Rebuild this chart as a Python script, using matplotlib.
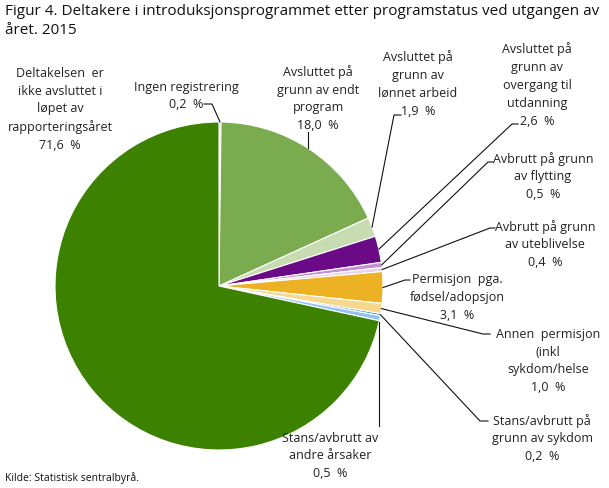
import numpy as np
import matplotlib
matplotlib.use("Agg")
import matplotlib.pyplot as plt

plt.rcParams['font.family'] = ['Open Sans', 'DejaVu Sans']

# data, clockwise from 12 o'clock
labels = ["Ingen registrering",
          "Avsluttet på\ngrunn av endt\nprogram",
          "Avsluttet på\ngrunn av\nlønnet arbeid",
          "Avsluttet på\ngrunn av\novergang til\nutdanning",
          "Avbrutt på grunn\nav flytting",
          "Avbrutt på grunn\nav uteblivelse",
          "Permisjon  pga.\nfødsel/adopsjon",
          "Annen  permisjon\n(inkl\nsykdom/helse",
          "Stans/avbrutt på\ngrunn av sykdom",
          "Stans/avbrutt av\nandre årsaker",
          "Deltakelsen  er\nikke avsluttet i\nløpet av\nrapporteringsåret"]
values = [0.2, 18.0, 1.9, 2.6, 0.5, 0.4, 3.1, 1.0, 0.2, 0.5, 71.6]
colors = ['#dfe6d8', '#7aab4f', '#c8dcb2', '#6b0a87', '#c191d1', '#e6d3ec',
          '#ecb223', '#f6d88e', '#2e7fd8', '#93c2ef', '#3c8200']

W, H = 609, 489
fig = plt.figure(figsize=(W / 100, H / 100), dpi=100)
ax = fig.add_axes([0, 0, 1, 1])

cx, cy, r = 219, 287, 164
ax.pie(values, colors=colors, startangle=90, counterclock=False,
       center=(cx, H - cy), radius=r,
       wedgeprops=dict(edgecolor='white', linewidth=0.8))
ax.set_xlim(0, W)
ax.set_ylim(0, H)
ax.set_aspect('auto')
ax.axis('off')


def py(y):
    return H - y


# mid angle of each slice on the rim (pixel coords)
cum = np.cumsum(values) - np.array(values) / 2
ang = np.deg2rad(cum / 100 * 360)
rim_x = cx + r * np.sin(ang)
rim_y = cy - r * np.cos(ang)

# text centre (x, y) and elbow points of leader, in pixels
layout = [
    (186, 96, [(204, 105), (212, 105)]),
    (318, 98.5, [(308, 133)]),
    (418, 84, [(401, 116), (394, 116)]),
    (537, 85, [(518, 125), (512, 125)]),
    (543, 176.5, [(493, 163), (488, 163)]),
    (545, 244.5, [(495, 229), (490, 229)]),
    (457, 297.5, [(410, 281), (405, 281)]),
    (548, 361, [(490, 335), (483, 335)]),
    (542, 438.5, [(488, 422), (480, 422)]),
    (330, 456, [(379, 427)]),
    (60, 109.5, []),
]

for i, (lab, val) in enumerate(zip(labels, values)):
    tx, ty, elbow = layout[i]
    txt = lab + "\n" + f"{val:.1f}".replace('.', ',') + "  %"
    ax.text(tx, py(ty), txt, ha='center', va='center', fontsize=9,
            linespacing=1.48, color='#222222')
    if elbow:
        pts = elbow + [(rim_x[i], rim_y[i])]
        xs = [p[0] for p in pts]
        ys = [py(p[1]) for p in pts]
        if i == 1 or i == 9:
            xs[-1] = xs[0]
            ys[-1] = py(cy - np.sqrt(r ** 2 - (xs[0] - cx) ** 2) if i == 1
                        else cy + np.sqrt(r ** 2 - (xs[0] - cx) ** 2))
        ax.plot(xs, ys, color='#111111', lw=0.8)

fig.text(5 / W, 1 - 4 / H,
         "Figur 4. Deltakere i introduksjonsprogrammet etter programstatus ved utgangen av\nåret. 2015",
         ha='left', va='top', fontsize=11, linespacing=1.4, color='#111111')
fig.text(5 / W, 1 - 478 / H, "Kilde: Statistisk sentralbyrå.",
         ha='left', va='center', fontsize=7.5, color='#111111')

fig.savefig("out.png", dpi=100)
